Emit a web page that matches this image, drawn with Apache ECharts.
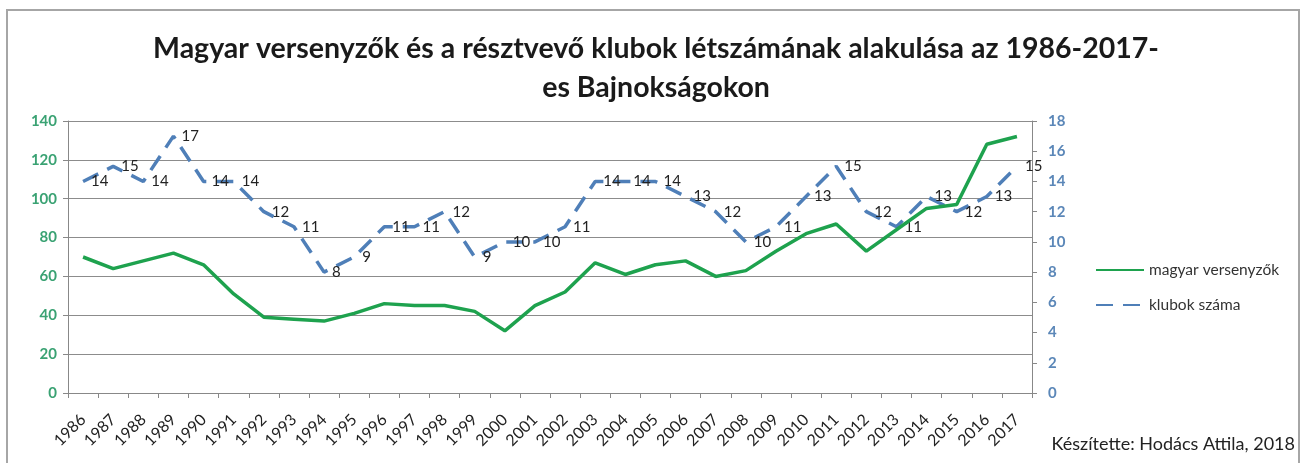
<!DOCTYPE html>
<html>
<head>
<meta charset="utf-8">
<script src="https://cdn.jsdelivr.net/npm/echarts@6/dist/echarts.min.js"></script>
<style>
    html, body { margin: 0; padding: 0; background: #fff; }
    #main { width: 1303px; height: 463px; }
</style>
</head>
<body>
<div id="main"></div>
<script>
var years = ['1986', '1987', '1988', '1989', '1990', '1991', '1992', '1993', '1994', '1995',
    '1996', '1997', '1998', '1999', '2000', '2001', '2002', '2003', '2004', '2005',
    '2006', '2007', '2008', '2009', '2010', '2011', '2012', '2013', '2014', '2015',
    '2016', '2017'];

var versenyzok = [70, 64, 68, 72, 66, 51, 39, 38, 37, 41,
    46, 45, 45, 42, 32, 45, 52, 67, 61, 66,
    68, 60, 63, 73, 82, 87, 73, 84, 95, 97,
    128, 132];

var klubok = [14, 15, 14, 17, 14, 14, 12, 11, 8, 9,
    11, 11, 12, 9, 10, 10, 11, 14, 14, 14,
    13, 12, 10, 11, 13, 15, 12, 11, 13, 12,
    13, 15];

var font = 'Lato, "Open Sans", sans-serif';

var myChart = echarts.init(document.getElementById('main'));

var option = {
    backgroundColor: '#fff',
    animation: false,
    textStyle: { fontFamily: font },
    title: {
        text: 'Magyar versenyzők és a résztvevő klubok létszámának alakulása az 1986-2017-\nes Bajnokságokon',
        left: 651,
        top: 24,
        textAlign: 'center',
        textStyle: {
            fontSize: 28.5,
            fontWeight: 'bold',
            color: '#1a1a1a',
            lineHeight: 39,
            fontFamily: font
        }
    },
    legend: {
        orient: 'vertical',
        left: 1090,
        top: 257,
        itemWidth: 48,
        itemHeight: 14,
        itemGap: 19,
        itemStyle: { opacity: 0 },
        textStyle: { fontSize: 15.5, color: '#333', fontFamily: font },
        data: ['magyar versenyzők', 'klubok száma']
    },
    grid: {
        left: 68,
        right: 271,
        top: 121,
        bottom: 70
    },
    xAxis: {
        type: 'category',
        data: years,
        boundaryGap: true,
        axisLine: { lineStyle: { color: '#888', width: 1 } },
        axisTick: { show: true, length: 5, lineStyle: { color: '#888' } },
        axisLabel: {
            rotate: 45,
            interval: 0,
            fontSize: 16,
            color: '#222',
            margin: 24
        }
    },
    yAxis: [{
        type: 'value',
        min: 0,
        max: 140,
        interval: 20,
        position: 'left',
        axisLine: { show: true, lineStyle: { color: '#888' } },
        axisTick: { show: true, length: 5, lineStyle: { color: '#888' } },
        splitLine: { show: true, lineStyle: { color: '#8c8c8c', width: 1 } },
        axisLabel: { fontSize: 15, fontWeight: 'bold', color: '#3aa273', margin: 11 }
    }, {
        type: 'value',
        min: 0,
        max: 18,
        interval: 2,
        position: 'right',
        axisLine: { show: true, lineStyle: { color: '#888' } },
        axisTick: { show: true, length: 5, lineStyle: { color: '#888' } },
        splitLine: { show: false },
        axisLabel: { fontSize: 15, fontWeight: 'bold', color: '#5b87b8', margin: 16 }
    }],
    series: [{
        name: 'magyar versenyzők',
        type: 'line',
        yAxisIndex: 0,
        data: versenyzok,
        symbol: 'none',
        lineStyle: { color: '#1ea24e', width: 3.5 },
        itemStyle: { color: '#1ea24e' },
        z: 3
    }, {
        name: 'klubok száma',
        type: 'line',
        yAxisIndex: 1,
        data: klubok,
        symbol: 'circle',
        symbolSize: 0.1,
        lineStyle: { color: '#4f7fb8', width: 3.5, type: [17, 10] },
        itemStyle: { color: '#4f7fb8' },
        label: {
            show: true,
            position: 'right',
            distance: 8,
            fontSize: 15,
            color: '#222',
            fontFamily: font
        },
        z: 2
    }],
    graphic: [{
        type: 'rect',
        shape: { x: 7, y: 10, width: 1292, height: 470 },
        style: { fill: 'none', stroke: '#a6a6a6', lineWidth: 2 },
        silent: true
    }, {
        type: 'text',
        right: 8,
        top: 435,
        style: {
            text: 'Készítette: Hodács Attila, 2018',
            fontSize: 18,
            fontFamily: font,
            fill: '#222'
        }
    }]
};

myChart.setOption(option);
</script>
</body>
</html>
